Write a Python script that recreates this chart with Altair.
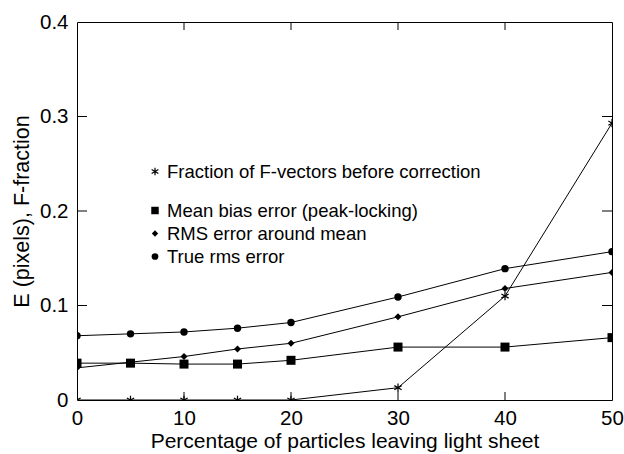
import altair as alt
import pandas as pd

# Percentage of particles leaving the light sheet
pct = [0, 5, 10, 15, 20, 30, 40, 50]

# Series values
frac_f = [0.0, 0.0, 0.0, 0.0, 0.0, 0.013, 0.110, 0.293]
bias_err = [0.039, 0.039, 0.038, 0.038, 0.042, 0.056, 0.056, 0.066]
rms_mean = [0.034, 0.040, 0.046, 0.054, 0.060, 0.088, 0.118, 0.135]
rms_true = [0.068, 0.070, 0.072, 0.076, 0.082, 0.109, 0.139, 0.157]

series_names = [
    "Fraction of F-vectors before correction",
    "Mean bias error (peak-locking)",
    "RMS error around mean",
    "True rms error",
]

x_ticks = [0, 10, 20, 30, 40, 50]
y_ticks = [0, 0.1, 0.2, 0.3, 0.4]
x_inner_ticks = [10, 20, 30, 40]
y_inner_ticks = [0.1, 0.2, 0.3]

FONT = "Liberation Sans"
ASTERISK = "M0,-1L0,1M-0.87,-0.5L0.87,0.5M-0.87,0.5L0.87,-0.5"
W, H = 535, 378

rows = []
for name, vals in zip(series_names, [frac_f, bias_err, rms_mean, rms_true]):
    for p, v in zip(pct, vals):
        rows.append({"series": name, "pct": p, "value": v})
df = pd.DataFrame(rows)

x_scale = alt.Scale(domain=[0, 50], nice=False, zero=False)
y_scale = alt.Scale(domain=[0, 0.4], nice=False)

common_axis = dict(
    domain=False, grid=False, ticks=False,
    labelFont=FONT, titleFont=FONT, labelColor="black", titleColor="black",
    titleFontWeight="normal", labelFlush=False, labelOverlap=False,
)

# The same channel definitions are shared by every layer so the axes merge
X = alt.X(
    "pct:Q", scale=x_scale, title="Percentage of particles leaving light sheet",
    axis=alt.Axis(orient="bottom", values=x_ticks, format="d", labelPadding=8,
                  labelFontSize=20.5, titleFontSize=21, titlePadding=2,
                  **common_axis),
)
Y = alt.Y(
    "value:Q", scale=y_scale, title="E (pixels), F-fraction",
    axis=alt.Axis(orient="left", values=y_ticks,
                  labelExpr="datum.value == 0 ? '0' : format(datum.value, '.1f')",
                  labelPadding=9, labelFontSize=20.5, titleFontSize=21.5,
                  titlePadding=6, **common_axis),
)

base = alt.Chart(df)

lines = base.mark_line(color="black", strokeWidth=1, clip=True).encode(
    x=X, y=Y, detail="series:N"
)

marker_styles = [
    dict(shape=ASTERISK, filled=False, stroke="black", strokeWidth=1.2, size=70),
    dict(shape="square", filled=True, color="black", size=81),
    dict(shape="diamond", filled=True, color="black", size=49),
    dict(shape="circle", filled=True, color="black", size=55),
]

point_layers = [
    base.transform_filter(alt.datum.series == name)
    .mark_point(opacity=1, clip=True, **style)
    .encode(x=X, y=Y)
    for name, style in zip(series_names, marker_styles)
]

# Inward-pointing ticks on all four sides of the frame
xt = pd.DataFrame({"pct": x_inner_ticks})
yt = pd.DataFrame({"value": y_inner_ticks})
tick_style = dict(color="black", strokeWidth=1)
tick_layers = [
    alt.Chart(xt).mark_rule(**tick_style).encode(
        x=X, y=alt.value(H), y2=alt.value(H - 8)),
    alt.Chart(xt).mark_rule(**tick_style).encode(
        x=X, y=alt.value(0), y2=alt.value(8)),
    alt.Chart(yt).mark_rule(**tick_style).encode(
        y=Y, x=alt.value(0), x2=alt.value(10)),
    alt.Chart(yt).mark_rule(**tick_style).encode(
        y=Y, x=alt.value(W), x2=alt.value(W - 10)),
]

# Key drawn inside the plot area
key_y = [149.5, 188.5, 211.5, 234.5]
key_sizes = [60, 56, 40, 45]
key_layers = []
for name, style, ky, ks in zip(series_names, marker_styles, key_y, key_sizes):
    kstyle = dict(style)
    kstyle["size"] = ks
    key_df = pd.DataFrame({"label": [name]})
    key_layers.append(
        alt.Chart(key_df).mark_point(opacity=1, **kstyle)
        .encode(x=alt.value(78), y=alt.value(ky))
    )
    key_layers.append(
        alt.Chart(key_df).mark_text(
            align="left", baseline="middle", font=FONT, fontSize=18.5, color="black"
        ).encode(x=alt.value(90), y=alt.value(ky), text="label:N")
    )

chart = (
    alt.layer(lines, *point_layers, *tick_layers, *key_layers)
    .properties(
        width=W, height=H,
        autosize=alt.AutoSizeParams(type="none"),
        padding={"left": 77, "top": 22, "right": 12, "bottom": 54},
        background="white",
    )
    .configure_view(stroke="black", strokeWidth=1)
)

chart.save("out.html", embed_options={"renderer": "svg", "actions": False})
